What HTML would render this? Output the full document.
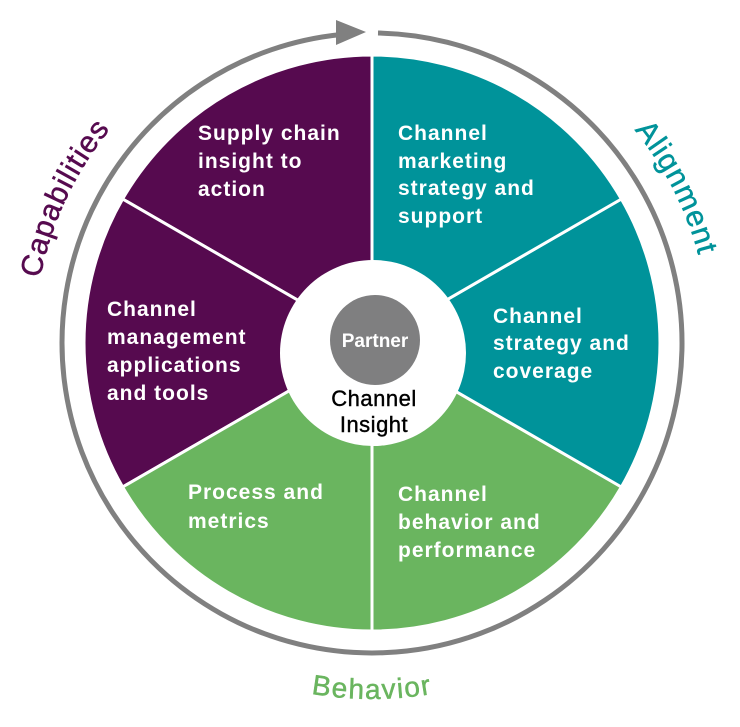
<!DOCTYPE html>
<html><head><meta charset="utf-8"><style>
html,body{margin:0;padding:0;background:#fff;}
svg{display:block;}
.t{font-family:"Liberation Sans",sans-serif;font-weight:bold;font-size:21px;fill:#fff;letter-spacing:1px;}
</style></head><body>
<svg width="740" height="727" viewBox="0 0 740 727" xmlns="http://www.w3.org/2000/svg">
<defs>
<path id="cw" d="M 34,343 A 338 338 0 1 1 710,343 A 338 338 0 1 1 34,343"/>
<path id="ccw" d="M 16,343 A 356 356 0 0 0 728,343"/>
</defs>
<path d="M 378,33 A 310 310 0 1 1 340,34.6" fill="none" stroke="#808080" stroke-width="5"/>
<polygon points="336,20 366,32 336,45" fill="#808080"/>
<g stroke="#fff" stroke-width="3">
<path d="M372,343 L372,55 A288 288 0 0 0 122.6,199 Z" fill="#560a4f"/>
<path d="M372,343 L122.6,199 A288 288 0 0 0 122.6,487 Z" fill="#560a4f"/>
<path d="M372,343 L122.6,487 A288 288 0 0 0 372,631 Z" fill="#6ab55f"/>
<path d="M372,343 L372,631 A288 288 0 0 0 621.4,487 Z" fill="#6ab55f"/>
<path d="M372,343 L621.4,487 A288 288 0 0 0 621.4,199 Z" fill="#00939a"/>
<path d="M372,343 L621.4,199 A288 288 0 0 0 372,55 Z" fill="#00939a"/>
</g>
<circle cx="373" cy="353" r="93" fill="#fff"/>
<circle cx="375" cy="340" r="45" fill="#7f7f80"/>
<text x="375" y="347" text-anchor="middle" style="font-family:'Liberation Sans',sans-serif;font-weight:bold;font-size:19px;fill:#fff">Partner</text>
<text x="374" y="406" text-anchor="middle" style="font-family:'Liberation Sans',sans-serif;font-size:22px;fill:#000;letter-spacing:0.5px;stroke:#000;stroke-width:0.4">Channel</text>
<text x="374" y="432" text-anchor="middle" style="font-family:'Liberation Sans',sans-serif;font-size:22px;fill:#000;letter-spacing:0.5px;stroke:#000;stroke-width:0.4">Insight</text>

<text class="t"><tspan x="198" y="140">Supply chain</tspan><tspan x="198" y="168">insight to</tspan><tspan x="198" y="196">action</tspan></text>
<text class="t"><tspan x="398" y="140">Channel</tspan><tspan x="398" y="168">marketing</tspan><tspan x="398" y="195">strategy and</tspan><tspan x="398" y="223">support</tspan></text>
<text class="t"><tspan x="107" y="316">Channel</tspan><tspan x="107" y="344">management</tspan><tspan x="107" y="372">applications</tspan><tspan x="107" y="400">and tools</tspan></text>
<text class="t"><tspan x="493" y="323">Channel</tspan><tspan x="493" y="350">strategy and</tspan><tspan x="493" y="378">coverage</tspan></text>
<text class="t"><tspan x="188" y="499">Process and</tspan><tspan x="188" y="528">metrics</tspan></text>
<text class="t"><tspan x="398" y="501">Channel</tspan><tspan x="398" y="529">behavior and</tspan><tspan x="398" y="557">performance</tspan></text>

<text style="font-family:'Liberation Sans',sans-serif;font-size:30px;fill:#560a4f;letter-spacing:1px;stroke:#560a4f;stroke-width:0.5"><textPath href="#cw" startOffset="7%" text-anchor="middle">Capabilities</textPath></text>
<text style="font-family:'Liberation Sans',sans-serif;font-size:30px;fill:#00939a;letter-spacing:1px;stroke:#00939a;stroke-width:0.5"><textPath href="#cw" startOffset="42.5%" text-anchor="middle">Alignment</textPath></text>
<text style="font-family:'Liberation Sans',sans-serif;font-size:28px;fill:#6ab55f;letter-spacing:1.5px;stroke:#6ab55f;stroke-width:0.5"><textPath href="#ccw" startOffset="50%" text-anchor="middle">Behavior</textPath></text>
</svg>
</body></html>
